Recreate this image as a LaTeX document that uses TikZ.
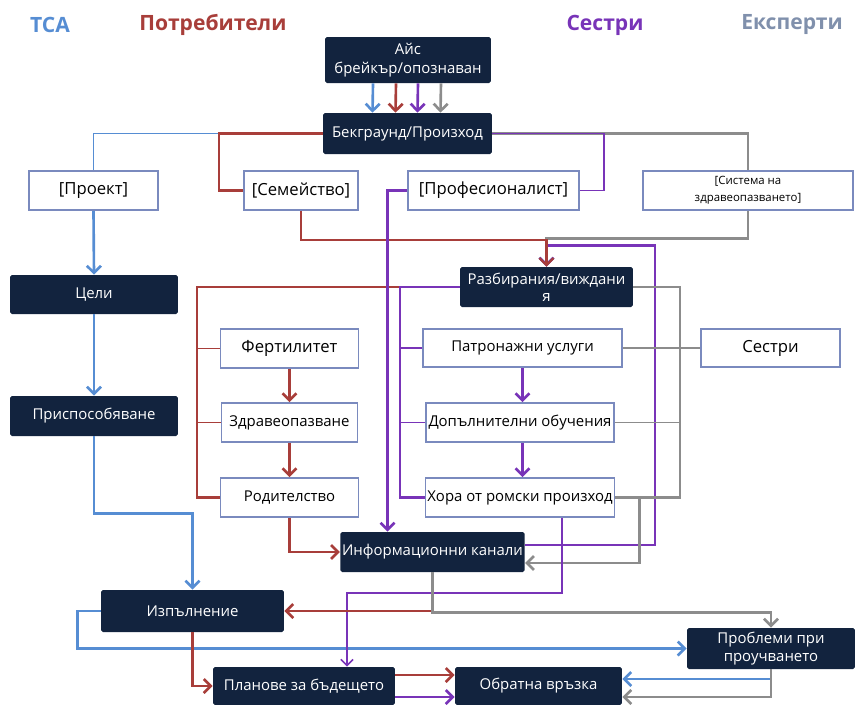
\documentclass[tikz,border=0pt]{standalone}
\usepackage{fontspec}
\setmainfont{Open Sans}
\usetikzlibrary{shapes,arrows.meta,positioning,calc}

\definecolor{navy}{RGB}{18,35,62}
\definecolor{cblue}{RGB}{86,141,211}
\definecolor{cred}{RGB}{168,62,58}
\definecolor{cpurple}{RGB}{120,52,184}
\definecolor{cgray}{RGB}{140,140,140}
\definecolor{cexpert}{RGB}{128,144,172}
\definecolor{boxline}{RGB}{122,138,190}

\begin{document}
\begin{tikzpicture}[x=0.02cm, y=-0.02cm,
  dark/.style={fill=navy, text=white, rounded corners=1pt, align=center, inner sep=1pt,
    font=\fontsize{8.5}{10.8}\selectfont},
  light/.style={draw=boxline, line width=0.9pt, fill=white, align=center, inner sep=1pt,
    font=\fontsize{8.5}{10.8}\selectfont},
  big/.style={font=\fontsize{9.5}{11}\selectfont},
  heading/.style={font=\fontsize{12}{14}\selectfont\bfseries},
  conn/.style={line width=0.9pt},
  flow/.style={line width=1.5pt, -{Straight Barb[length=4pt,width=8pt]}},
  thinflow/.style={line width=0.9pt, -{Straight Barb[length=3.5pt,width=7pt]}}]
\useasboundingbox (0,0) rectangle (856,704);

% Headings
\node[heading, text=cblue] (hTCA) at (50,25) {ТСА};
\node[heading, text=cred] (hUsers) at (213,25) {Потребители};
\node[heading, text=cpurple] (hNurses) at (605,25) {Сестри};
\node[heading, text=cexpert] (hExperts) at (792,25) {Експерти};

% Top boxes
\node[dark, minimum width=3.32cm, minimum height=0.92cm] (ice) at (408,60) {Айс\\брейкър/опознаван};
\node[dark, minimum width=3.38cm, minimum height=0.82cm] (back) at (407.5,133.5) {Бекграунд/Произход};
\node[light, big, minimum width=2.58cm, minimum height=0.78cm] (proj) at (93.5,190.5) {[Проект]};
\node[light, big, minimum width=2.28cm, minimum height=0.78cm] (fam) at (301,190.5) {[Семейство]};
\node[light, big, minimum width=3.42cm, minimum height=0.78cm] (prof) at (493.5,190.5) {[Професионалист]};
\node[light, minimum width=4.2cm, minimum height=0.78cm, font=\fontsize{6.5}{9.5}\selectfont] (sys) at (748,190.5) {[Система на\\здравеопазването]};

% Left column
\node[dark, minimum width=3.36cm, minimum height=0.78cm] (goals) at (94,294.5) {Цели};
\node[dark, minimum width=3.36cm, minimum height=0.8cm] (adapt) at (94,416) {Приспособяване};

% Middle
\node[dark, minimum width=3.46cm, minimum height=0.8cm, font=\fontsize{8.5}{9.5}\selectfont] (views) at (546.5,287) {Разбирания/виждани\\я};
\node[light, big, minimum width=2.76cm, minimum height=0.78cm] (fert) at (289.5,348.5) {Фертилитет};
\node[light, minimum width=2.72cm, minimum height=0.78cm] (health) at (289.5,422.5) {Здравеопазване};
\node[light, minimum width=2.76cm, minimum height=0.78cm] (parent) at (289.5,497.5) {Родителство};
\node[light, minimum width=3.98cm, minimum height=0.76cm] (patr) at (522.5,348) {Патронажни услуги};
\node[light, minimum width=3.76cm, minimum height=0.78cm] (extra) at (520,422.5) {Допълнителни обучения};
\node[light, minimum width=3.76cm, minimum height=0.78cm] (roma) at (520,497.5) {Хора от ромски произход};
\node[light, big, minimum width=2.78cm, minimum height=0.76cm] (nurses) at (770.5,348) {Сестри};
\node[dark, minimum width=3.62cm, minimum height=0.8cm] (info) at (432.5,552) {Информационни канали};

% Bottom
\node[dark, minimum width=3.66cm, minimum height=0.84cm] (impl) at (192.5,611) {Изпълнение};
\node[dark, minimum width=3.36cm, minimum height=0.82cm, font=\fontsize{8.5}{10.5}\selectfont] (probl) at (771,648.5) {Проблеми при\\проучването};
\node[dark, minimum width=3.64cm, minimum height=0.76cm] (plans) at (304,686) {Планове за бъдещето};
\node[dark, minimum width=3.34cm, minimum height=0.76cm] (fb) at (538.5,686) {Обратна връзка};

% Ice breaker arrows
\foreach \dx/\col in {-0.7/cblue, -0.24/cred, 0.2/cpurple, 0.66/cgray}
  \draw[flow, \col] ([xshift=\dx cm]ice.south) -- ([xshift=\dx cm]back.north);

% Background branches
\draw[conn, cblue] (back.west) -| (proj.north);
\draw[conn, cred, line width=1.2pt] (back.west) -| ([xshift=-0.48cm]fam.west) -- (fam.west);
\draw[conn, cgray, line width=1.2pt] (back.east) -| (sys.north);
\draw[conn, cpurple] (back.east) -| ([xshift=0.48cm]prof.east) -- (prof.east);

% TCA line
\draw[flow, cblue] (proj.south) -- (goals.north);
\draw[flow, cblue] (goals.south) -- (adapt.north);
\draw[flow, cblue] (adapt.south) -- ++(0,77) -| (impl.north);
\draw[flow, cblue] (impl.west) -- ++(-23,0) |- (probl.west);

% Into views
\draw[flow, cgray] (sys.south) -- ++(0,28) -| (views.north);
\draw[flow, cpurple] ([yshift=0.14cm]info.east) -- ++(130,0) |- ([yshift=0.42cm]views.north) -- (views.north);
\draw[flow, cred, line width=1.2pt] (fam.south) -- ++(0,29) -| (views.north);

% Users bus
\draw[conn, cred, line width=1.2pt] (views.west) -- ++(-263,0) |- (parent.west);
\draw[conn, cred] (fert.west) -- ++(-23,0);
\draw[conn, cred] (health.west) -- ++(-25,0);
\draw[flow, cred] (fert.south) -- (fert.south |- health.north);
\draw[flow, cred] (health.south) -- (health.south |- parent.north);
\draw[flow, cred] (parent.south) |- (info.west);

% Nurses bus
\draw[conn, cpurple, line width=1.2pt] (views.west) -- ++(-60,0) |- (roma.west);
\draw[conn, cpurple] (patr.west) -- ++(-23,0);
\draw[conn, cpurple] (extra.west) -- ++(-26,0);
\draw[flow, cpurple] (patr.south) -- (patr.south |- extra.north);
\draw[flow, cpurple] (patr.south |- extra.south) -- (patr.south |- roma.north);
\draw[flow, cpurple] (prof.west) -| ([xshift=-0.9cm]info.north);

% Experts bus
\draw[conn, cgray, line width=1.2pt] (views.east) -- ++(47,0) |- (roma.east);
\draw[conn, cgray] (extra.east) -- ++(66,0);
\draw[conn, cgray] (patr.east) -- (nurses.west);
\draw[flow, cgray] (roma.east) -- ++(24,0) |- ([yshift=-0.22cm]info.east);

% Out of info channels
\draw[thinflow, cpurple] ([xshift=0.84cm]roma.south) -- ++(0,75) -| ([xshift=0.86cm]plans.north);
\draw[flow, cred] (info.south) |- (impl.east);
\draw[flow, cgray] (info.south) -- ++(0,40) -| (probl.north);

% Feedback
\draw[flow, cred] (impl.south) |- (plans.west);
\draw[flow, cred] ([yshift=0.22cm]plans.east) -- ([yshift=0.22cm]fb.west);
\draw[flow, cpurple] ([yshift=-0.22cm]plans.east) -- ([yshift=-0.22cm]fb.west);
\draw[flow, cblue] (probl.south) |- ([yshift=0.14cm]fb.east);
\draw[flow, cgray] (probl.south) |- ([yshift=-0.22cm]fb.east);
\end{tikzpicture}
\end{document}
